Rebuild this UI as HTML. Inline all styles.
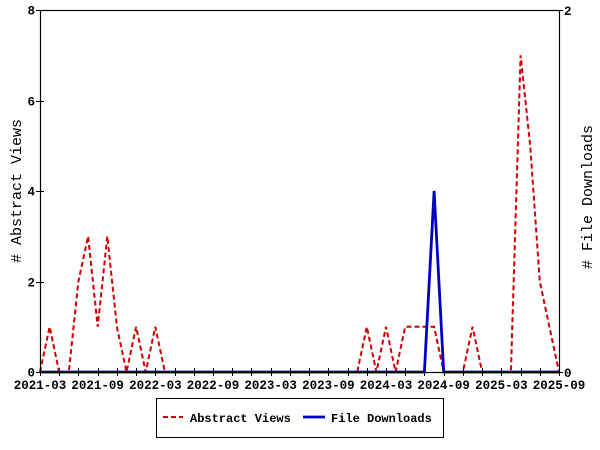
<!DOCTYPE html>
<html><head><meta charset="utf-8"><style>
html,body{margin:0;padding:0;background:#fff;}
svg{display:block;}
text{font-family:"Liberation Mono",monospace;fill:#000;}
.t{font-size:12.5px;font-weight:bold;}
</style></head><body>
<svg width="600" height="450" viewBox="0 0 600 450" xmlns="http://www.w3.org/2000/svg">
<rect width="600" height="450" fill="#fff"/>
<g id="ticks" stroke="#000" stroke-width="1"></g>
<polyline id="av" fill="none" stroke="#d00000" stroke-width="2" stroke-dasharray="5,3"/>
<polyline id="fd" fill="none" stroke="#0000c0" stroke-width="2.8"/>
<rect x="40.5" y="10.5" width="519" height="362" fill="none" stroke="#000" stroke-width="1.2"/>
<g id="labels"></g>
<text x="21" y="191" font-size="15" text-anchor="middle" transform="rotate(-90 21 191)"># Abstract Views</text>
<text x="592" y="197" font-size="15" text-anchor="middle" transform="rotate(-90 592 197)"># File Downloads</text>
<rect x="156.5" y="398.5" width="287" height="39" fill="none" stroke="#000" stroke-width="1"/>
<line x1="163" y1="417" x2="183" y2="417" stroke="#d00000" stroke-width="2" stroke-dasharray="5,3"/>
<text x="190" y="422" font-size="12" font-weight="bold">Abstract Views</text>
<line x1="303" y1="417" x2="325" y2="417" stroke="#0000c0" stroke-width="2.8"/>
<text x="331" y="422" font-size="12" font-weight="bold">File Downloads</text>
<script>
var X0=40,W=519,Y0=372,H=362,M=54;
function x(m){return X0+m*W/M;}
var av={1:1,4:2,5:3,6:1,7:3,8:1,10:1,12:1,34:1,36:1,38:1,39:1,40:1,41:1,45:1,50:7,51:5,52:2,53:1};
var p=[];for(var m=0;m<=54;m++){var v=av[m]||0;p.push(x(m).toFixed(1)+","+(Y0-v*H/8).toFixed(1));}
document.getElementById("av").setAttribute("points",p.join(" "));
var q=[];for(var m=0;m<=54;m++){var v=(m==41)?1:0;q.push(x(m).toFixed(1)+","+(Y0-v*H/2).toFixed(1));}
document.getElementById("fd").setAttribute("points",q.join(" "));
var g=document.getElementById("ticks"),L=document.getElementById("labels"),ns="http://www.w3.org/2000/svg";
function ln(a,b,c,d){var e=document.createElementNS(ns,"line");e.setAttribute("x1",a);e.setAttribute("y1",b);e.setAttribute("x2",c);e.setAttribute("y2",d);g.appendChild(e);}
function tx(s,a,b,anc){var e=document.createElementNS(ns,"text");e.setAttribute("x",a);e.setAttribute("y",b);e.setAttribute("class","t");e.setAttribute("text-anchor",anc);e.textContent=s;L.appendChild(e);}
var labs=["2021-03","2021-09","2022-03","2022-09","2023-03","2023-09","2024-03","2024-09","2025-03","2025-09"];
for(var m=0;m<=54;m+=2){var xx=Math.round(x(m))+0.5;ln(xx,368,xx,376);}
for(var i=0;i<10;i++){tx(labs[i],x(i*6),389,"middle");}
for(var v=0;v<=8;v+=2){var yy=Math.round(Y0-v*H/8)+0.5;ln(36,yy,44,yy);tx(String(v),35,yy+4,"end");}
ln(555,10.5,563,10.5);ln(555,372.5,563,372.5);
tx("2",564,15,"start");tx("0",564,377,"start");
</script>
</svg>
</body></html>
